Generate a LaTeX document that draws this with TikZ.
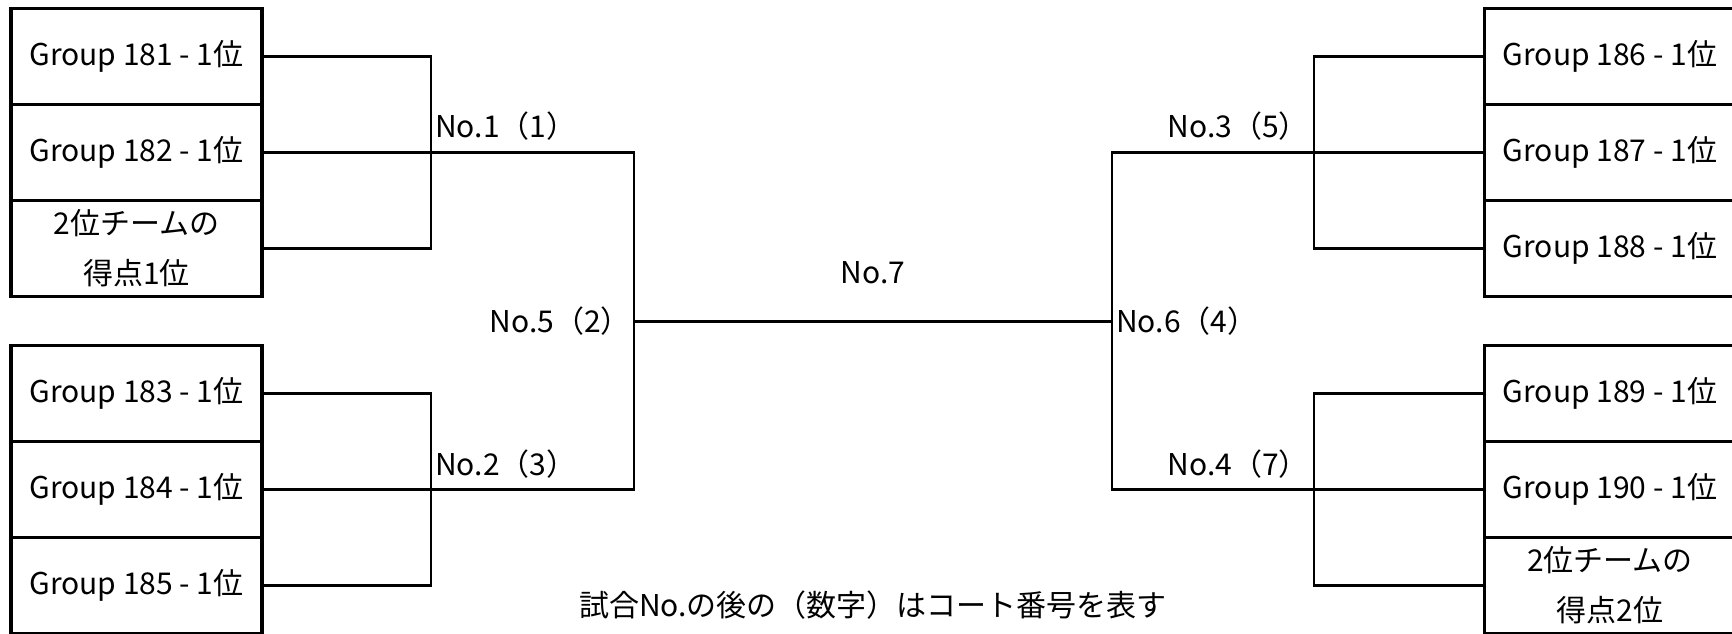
\documentclass[tikz,border=0pt]{standalone}
\usepackage{fontspec}
\setmainfont{Noto Sans CJK JP}
\usetikzlibrary{positioning,calc}

\begin{document}
\begin{tikzpicture}[x=0.75pt,y=-0.75pt,font=\fontsize{22.5pt}{37.5pt}\selectfont,
  team/.style={draw,line width=2.3pt,outer sep=0pt,inner sep=0pt,minimum width=188.25pt,minimum height=72pt,align=center},
  bracket/.style={line width=2pt},
  lbl/.style={inner sep=0pt}]
  \clip (0,0) rectangle (1732,634);

  % left teams
  \node[team] (g181) at (136.5,56.3) {Group 181 - 1位};
  \node[team,below=0pt of g181] (g182) {Group 182 - 1位};
  \node[team,below=0pt of g182] (s1) {2位チームの\\得点1位};
  \node[team] (g183) at (136.5,393.3) {Group 183 - 1位};
  \node[team,below=0pt of g183] (g184) {Group 184 - 1位};
  \node[team,below=0pt of g184] (g185) {Group 185 - 1位};

  % right teams
  \node[team] (g186) at (1610,56.3) {Group 186 - 1位};
  \node[team,below=0pt of g186] (g187) {Group 187 - 1位};
  \node[team,below=0pt of g187] (g188) {Group 188 - 1位};
  \node[team] (g189) at (1610,393.3) {Group 189 - 1位};
  \node[team,below=0pt of g189] (g190) {Group 190 - 1位};
  \node[team,below=0pt of g190] (s2) {2位チームの\\得点2位};

  % match points
  \coordinate (n1) at (431,152.3);
  \coordinate (n2) at (431,489.3);
  \coordinate (n5) at (634,321.5);
  \coordinate (n6) at (1112,321.5);
  \coordinate (n3) at (1314,152.3);
  \coordinate (n4) at (1314,489.3);

  % brackets
  \draw[bracket] (g181.east) -| (n1) |- (s1.east);
  \draw[bracket] (g182.east) -- (n1) -| (n5) |- (n2) -- (g184.east);
  \draw[bracket] (g183.east) -| (n2) |- (g185.east);
  \draw[bracket] (n5) -- (n6);
  \draw[bracket] (g186.west) -| (n3) |- (g188.west);
  \draw[bracket] (g187.west) -- (n3) -| (n6) |- (n4) -- (g190.west);
  \draw[bracket] (g189.west) -| (n4) |- (s2.west);

  % match labels
  \node[lbl,anchor=base west] (m1) at ($(n1)+(4,-15)$) {No.1（1）};
  \node[lbl,anchor=base west] (m2) at ($(n2)+(4,-14)$) {No.2（3）};
  \node[lbl,anchor=base east] (m3) at ($(n3)+(-5,-15)$) {No.3（5）};
  \node[lbl,anchor=base east] (m4) at ($(n4)+(-5,-14)$) {No.4（7）};
  \node[lbl,anchor=east] (m5) at ($(n5)+(-3,0)$) {No.5（2）};
  \node[lbl,anchor=west] (m6) at ($(n6)+(4,0)$) {No.6（4）};
  \node[lbl,anchor=base] (m7) at ($(n5)!0.5!(n6)+(0,-38)$) {No.7};

  \node[lbl] (note) at (873,605) {試合No.の後の（数字）はコート番号を表す};
\end{tikzpicture}
\end{document}
